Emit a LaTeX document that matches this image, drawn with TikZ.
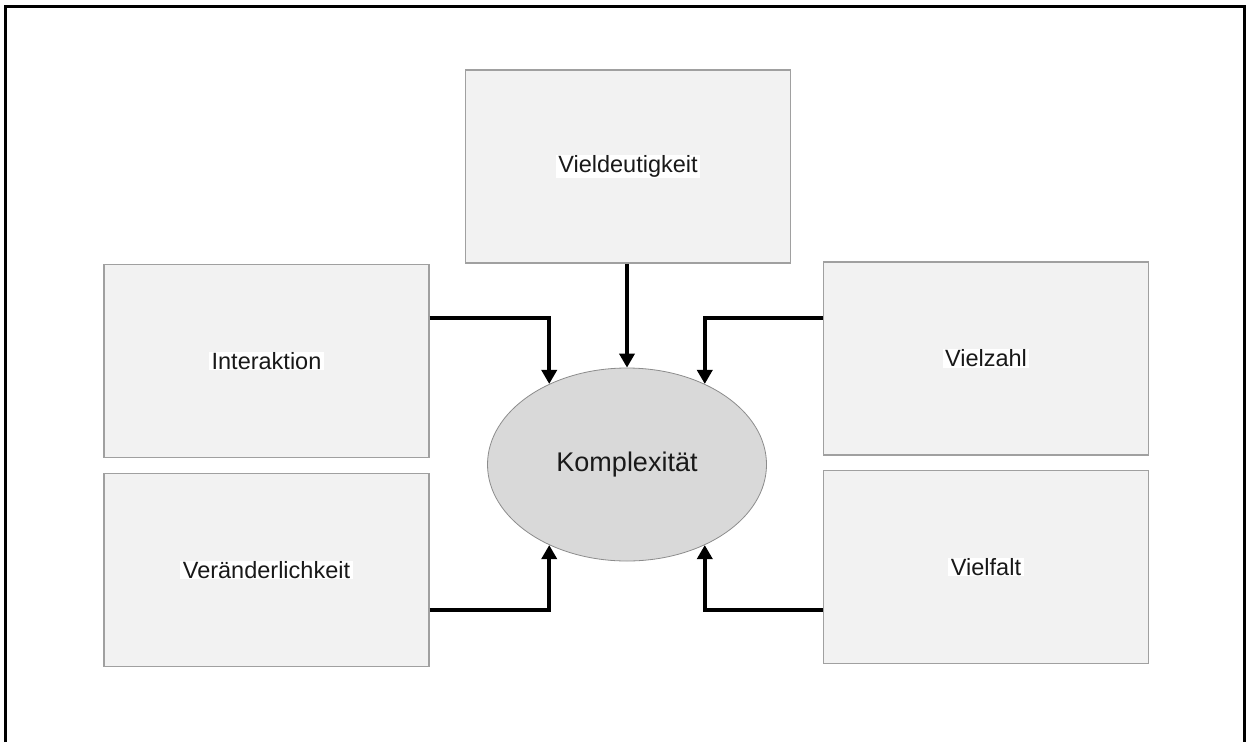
\documentclass[tikz,border=0pt]{standalone}
\usepackage{fontspec}
\setmainfont{Liberation Sans}
\usetikzlibrary{shapes.geometric,arrows.meta}
\definecolor{boxfill}{HTML}{F2F2F2}
\definecolor{boxline}{HTML}{A0A0A0}
\definecolor{ovalfill}{HTML}{D9D9D9}
\definecolor{ovalline}{HTML}{8C8C8C}
\tikzset{
  factor/.style={draw=boxline, line width=1.3pt, fill=boxfill,
    minimum width=325pt, minimum height=193pt, inner sep=0pt},
  factorlabel/.style={fill=white, inner xsep=2.5pt, inner ysep=0.8pt,
    font=\fontsize{23.5}{28}\selectfont, text=black!90},
  core/.style={ellipse, draw=ovalline, line width=0.8pt, fill=ovalfill,
    minimum width=279pt, minimum height=193pt, inner sep=0pt,
    font=\fontsize{27}{32}\selectfont, text=black!90},
  link/.style={line width=3.8pt, -{Triangle[length=14pt,width=15pt]}},
}
\begin{document}
\begin{tikzpicture}[x=1pt, y=-1pt]
  \useasboundingbox (0,0) rectangle (1246,742);
  % open outer frame (left, top and right edges)
  \draw[line width=2.7pt] (5.3,742) -- (5.3,6.8) -- (1244.6,6.8) -- (1244.6,742);

  % central ellipse
  \node[core] (komp) at (627,464.5) {Komplexität};

  % surrounding factor boxes with their labels
  \node[factor] (vield) at (628,166.5) {};
  \node[factorlabel] (vieldt) at (vield) {Vieldeutigkeit};

  \node[factor] (inter) at (266.5,361) {};
  \node[factorlabel] (intert) at (inter) {Interaktion};

  \node[factor] (veraend) at (266.5,570) {};
  \node[factorlabel] (veraendt) at (veraend) {Veränderlichkeit};

  \node[factor] (vzahl) at (986,358.5) {};
  \node[factorlabel] (vzahlt) at (vzahl) {Vielzahl};

  \node[factor] (vfalt) at (986,567) {};
  \node[factorlabel] (vfaltt) at (vfalt) {Vielfalt};

  % connectors into the ellipse
  \draw[link] (komp.north |- vield.south) -- (komp.north);
  \draw[link] (inter.east |- 0,318) -| (komp.134);
  \draw[link] (vzahl.west |- 0,318) -| (komp.46);
  \draw[link] (veraend.east |- 0,610) -| (komp.226);
  \draw[link] (vfalt.west |- 0,610) -| (komp.314);
\end{tikzpicture}
\end{document}
